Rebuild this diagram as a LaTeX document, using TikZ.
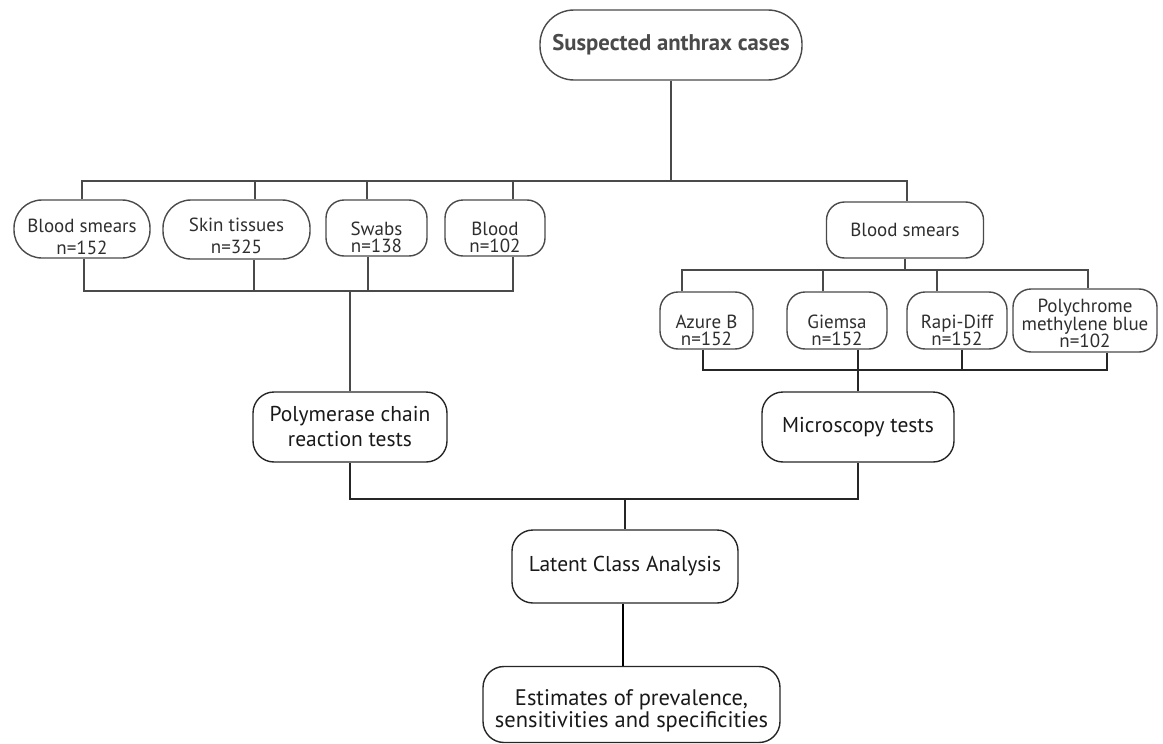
\documentclass[tikz,border=0pt]{standalone}
\usepackage{fontspec}
\setmainfont{PT Sans}
\definecolor{lgray}{HTML}{4A4A4A}
\definecolor{tgray}{HTML}{2E2E2E}
\newcommand{\dn}[1]{\rule{0pt}{#1}}
\begin{document}
\begin{tikzpicture}[x=1pt,y=-1pt,
  box/.style={draw=lgray,line width=1.4pt,rectangle,rounded corners=18pt,align=center,inner sep=0pt,text=tgray,
    font=\fontsize{19}{22}\selectfont},
  tight/.style={font=\fontsize{19}{17.5}\selectfont},
  pill/.style={box,rounded corners=28pt},
  bigbox/.style={box,draw=black!85,text=black!90,rounded corners=21pt,font=\fontsize{21.5}{25}\selectfont},
  conn/.style={draw=lgray,line width=1.4pt},
  dconn/.style={draw=black!85,line width=1.4pt}]
\useasboundingbox (0,0) rectangle (1163,744);

\node[pill,rounded corners=34pt,minimum width=262pt,minimum height=70pt,text=lgray,font=\fontsize{22.7}{26}\selectfont\bfseries] (sus) at (671,45) {Suspected anthrax cases};

\node[pill,minimum width=136pt,minimum height=58pt] (bs1) at (82,229) {\dn{30pt}Blood smears\\n=152};
\node[pill,minimum width=147pt,minimum height=59pt] (skin) at (236.5,229.5) {\dn{27pt}Skin tissues\\n=325};
\node[box,tight,minimum width=101pt,minimum height=56pt] (swabs) at (376.5,228) {\dn{32pt}Swabs\\n=138};
\node[box,tight,minimum width=100pt,minimum height=56pt] (blood) at (495,228) {\dn{32pt}Blood\\n=102};
\node[box,minimum width=157pt,minimum height=56pt] (bs2) at (905,230) {Blood smears};

\node[box,tight,minimum width=93pt,minimum height=57pt] (azure) at (706.5,320.5) {\dn{33pt}Azure B\\n=152};
\node[box,tight,minimum width=100pt,minimum height=57pt] (giemsa) at (837,320.5) {\dn{33pt}Giemsa\\n=152};
\node[box,tight,minimum width=100pt,minimum height=57pt] (rapi) at (957,320.5) {\dn{33pt}Rapi-Diff\\n=152};
\node[box,tight,minimum width=144pt,minimum height=63pt] (poly) at (1085,320.5) {\dn{20pt}Polychrome\\methylene blue\\n=102};

\node[bigbox,minimum width=194pt,minimum height=70pt] (pcr) at (350,427) {Polymerase chain\\reaction tests};
\node[bigbox,minimum width=192pt,minimum height=70pt] (micro) at (858,427) {Microscopy tests};
\node[bigbox,minimum width=226pt,minimum height=73pt] (lca) at (625,566.5) {Latent Class Analysis};
\node[bigbox,minimum width=297pt,minimum height=76pt,font=\fontsize{22.5}{22}\selectfont] (est) at (631.5,704.5) {\dn{28pt}Estimates of prevalence,\\sensitivities and specificities};

% top bus
\coordinate (tb) at (671,181);
\draw[conn] (sus.south) -- (tb);
\draw[conn] (bs1.north) |- ([xshift=2pt]bs2.north |- tb) -- ([xshift=2pt]bs2.north);
\draw[conn] ([xshift=18.5pt]skin.north) -- ([xshift=18.5pt]skin.north |- tb);
\draw[conn] ([xshift=-9.5pt]swabs.north) -- ([xshift=-9.5pt]swabs.north |- tb);
\draw[conn] ([xshift=18pt]blood.north) -- ([xshift=18pt]blood.north |- tb);

% left lower bus
\coordinate (lb) at (350,291);
\draw[conn] ([xshift=2pt]bs1.south) |- ([xshift=18pt]blood.south |- lb) -- ([xshift=18pt]blood.south);
\draw[conn] ([xshift=17.5pt]skin.south) -- ([xshift=17.5pt]skin.south |- lb);
\draw[conn] ([xshift=-8.5pt]swabs.south) -- ([xshift=-8.5pt]swabs.south |- lb);
\draw[conn] (lb) -- (pcr.north);

% right buses
\coordinate (rb) at (905,270);
\draw[conn] (bs2.south) -- (rb);
\draw[conn] ([xshift=-24.5pt]azure.north) |- ([xshift=3pt]poly.north |- rb) -- ([xshift=3pt]poly.north);
\draw[conn] ([xshift=-14pt]giemsa.north) -- ([xshift=-14pt]giemsa.north |- rb);
\draw[conn] ([xshift=-20pt]rapi.north) -- ([xshift=-20pt]rapi.north |- rb);

\coordinate (rlb) at (858,370);
\draw[dconn] ([xshift=-3.5pt]azure.south) |- ([xshift=22pt]poly.south |- rlb) -- ([xshift=22pt]poly.south);
\draw[dconn] ([xshift=21pt]giemsa.south) -- (micro.north);
\draw[dconn] ([xshift=5pt]rapi.south) -- ([xshift=5pt]rapi.south |- rlb);

% bottom
\coordinate (bb) at (625,499);
\draw[dconn] (pcr.south) |- (micro.south |- bb) -- (micro.south);
\draw[dconn] (bb) -- (lca.north);
\draw[draw=black,line width=2pt] ([xshift=-2pt]lca.south) -- ([xshift=-8.5pt]est.north);
\end{tikzpicture}
\end{document}
